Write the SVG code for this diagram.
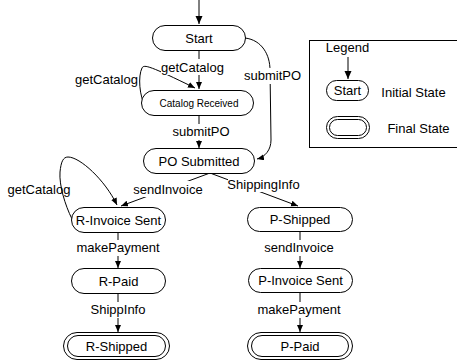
<svg xmlns="http://www.w3.org/2000/svg" width="457" height="364" viewBox="0 0 457 364">
<style>
text{font-family:"Liberation Sans",Arial,sans-serif;font-size:13px;fill:#000;text-anchor:middle}
.st{fill:#fff;stroke:#000;stroke-width:1}
.ln{fill:none;stroke:#000;stroke-width:1}
.bg{fill:#fff;stroke:none}
</style>
<defs>
<marker id="ah" markerUnits="userSpaceOnUse" markerWidth="8" markerHeight="8" refX="7" refY="3" orient="auto">
<path d="M0,0 L7,3 L0,6 Z" fill="#000"/>
</marker>
<marker id="ahb" markerUnits="userSpaceOnUse" markerWidth="10" markerHeight="10" refX="8" refY="3.5" orient="auto">
<path d="M0,0 L8,3.5 L0,7 Z" fill="#000"/>
</marker>
</defs>

<g id="connectors">
<line class="ln" x1="199" y1="0" x2="199" y2="24" stroke-width="2" marker-end="url(#ahb)"/>
<line class="ln" x1="199" y1="50" x2="199" y2="89" marker-end="url(#ah)"/>
<path class="ln" d="M146,108 C139,96 138,76 142,68 C144,64 150,66 195,88" marker-end="url(#ah)"/>
<path class="ln" d="M245,38 C262,40 270,55 270,70 L271,140 C271,150 265,157 257,159" marker-end="url(#ah)"/>
<line class="ln" x1="199" y1="115" x2="199" y2="148" marker-end="url(#ah)"/>
<line class="ln" x1="210" y1="173" x2="121" y2="206" marker-end="url(#ah)"/>
<line class="ln" x1="210" y1="173" x2="298" y2="206" marker-end="url(#ah)"/>
<path class="ln" d="M72,219 C65,205 59,185 60,172 C61,162 63,157 68,157 C80,157 105,180 117,205" marker-end="url(#ah)"/>
<line class="ln" x1="118" y1="232" x2="118" y2="268" marker-end="url(#ah)"/>
<line class="ln" x1="118" y1="293" x2="118" y2="332" marker-end="url(#ah)"/>
<line class="ln" x1="300" y1="231" x2="300" y2="268" marker-end="url(#ah)"/>
<line class="ln" x1="300" y1="292" x2="300" y2="332" marker-end="url(#ah)"/>

<rect class="bg" x="161" y="59" width="63" height="16"/>
<text x="192.5" y="72">getCatalog</text>
<text x="106.5" y="84">getCatalog</text>
<rect class="bg" x="244" y="68" width="57" height="16"/>
<text x="272.5" y="80">submitPO</text>
<rect class="bg" x="172" y="124" width="58" height="16"/>
<text x="201" y="136">submitPO</text>
<text x="39" y="194">getCatalog</text>
<rect class="bg" x="132" y="181" width="72" height="16"/>
<text x="168" y="194">sendInvoice</text>
<rect class="bg" x="228" y="177" width="72" height="15"/>
<text x="263.5" y="189">ShippingInfo</text>
<rect class="bg" x="80" y="240" width="76" height="16"/>
<text x="118" y="252">makePayment</text>
<rect class="bg" x="88" y="302" width="60" height="16"/>
<text x="118" y="314">ShippInfo</text>
<rect class="bg" x="264" y="240" width="72" height="16"/>
<text x="299" y="252">sendInvoice</text>
<rect class="bg" x="261" y="302" width="76" height="16"/>
<text x="299" y="314">makePayment</text>
</g>

<g id="start">
<rect class="st" x="152.5" y="25.5" width="93" height="25" rx="12.5"/>
<text x="199" y="42.5">Start</text>
</g>
<g id="catalog-received">
<rect class="st" x="141.5" y="90.5" width="112" height="25" rx="12.5"/>
<text x="199" y="106.5" style="font-size:10px">Catalog Received</text>
</g>
<g id="po-submitted">
<rect class="st" x="143.5" y="148.5" width="111" height="25" rx="12.5"/>
<text x="199" y="165.5">PO Submitted</text>
</g>
<g id="r-invoice-sent">
<rect class="st" x="71.5" y="207.5" width="94" height="25" rx="12.5"/>
<text x="118.5" y="224.5">R-Invoice Sent</text>
</g>
<g id="r-paid">
<rect class="st" x="71.5" y="268.5" width="94" height="25" rx="12.5"/>
<text x="118.5" y="285.5">R-Paid</text>
</g>
<g id="r-shipped">
<rect class="st" x="63.5" y="332.5" width="106" height="27" rx="13.5"/>
<rect class="st" x="67.5" y="335.5" width="98" height="21" rx="10.5"/>
<text x="116.5" y="350.5">R-Shipped</text>
</g>
<g id="p-shipped">
<rect class="st" x="247.5" y="207.5" width="105" height="24" rx="12"/>
<text x="300" y="224">P-Shipped</text>
</g>
<g id="p-invoice-sent">
<rect class="st" x="248.5" y="268.5" width="104" height="24" rx="12"/>
<text x="300.5" y="285">P-Invoice Sent</text>
</g>
<g id="p-paid">
<rect class="st" x="247.5" y="332.5" width="105" height="27" rx="13.5"/>
<rect class="st" x="251.5" y="335.5" width="97" height="21" rx="10.5"/>
<text x="300" y="350.5">P-Paid</text>
</g>

<g id="legend">
<rect x="309.5" y="40.5" width="150" height="107" fill="#fff" stroke="#000" stroke-width="1"/>
<text x="347.5" y="52">Legend</text>
<line class="ln" x1="348" y1="57" x2="348" y2="79" stroke-width="2" marker-end="url(#ahb)"/>
<rect class="st" x="326.5" y="80.5" width="42" height="20" rx="10"/>
<text x="347.5" y="95">Start</text>
<text x="413.5" y="97">Initial State</text>
<rect class="st" x="326.5" y="116.5" width="43" height="22" rx="11"/>
<rect class="st" x="329.5" y="119.5" width="37" height="16" rx="8"/>
<text x="418.5" y="133">Final State</text>
</g>
</svg>
